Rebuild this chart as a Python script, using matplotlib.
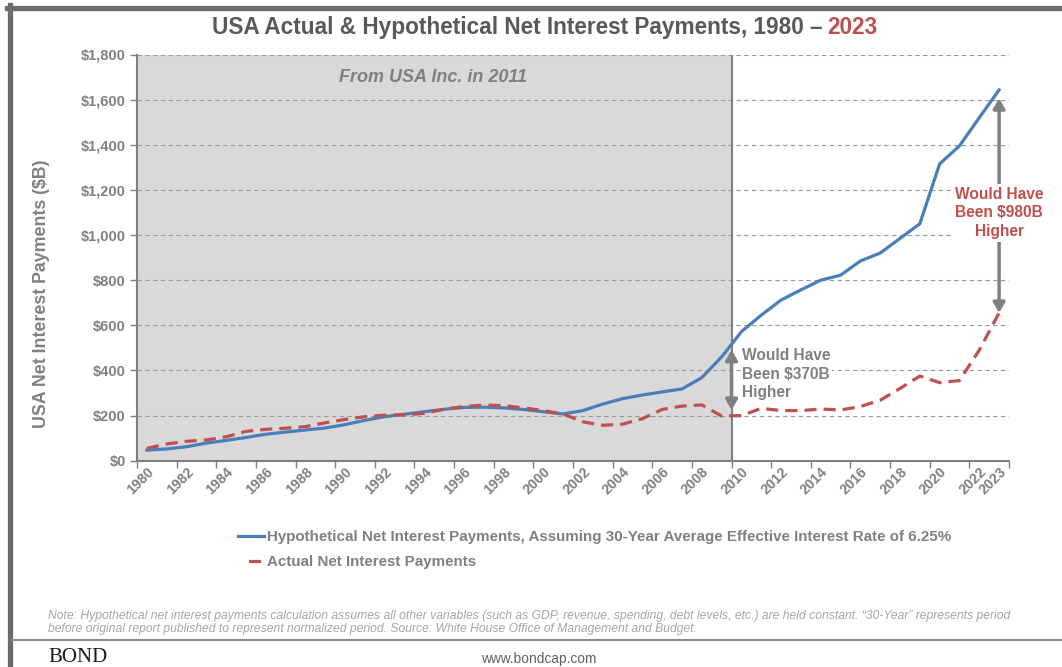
import numpy as np
import matplotlib.pyplot as plt
from matplotlib.lines import Line2D
from matplotlib.ticker import FuncFormatter

# data ($B per year)
years = list(range(1980, 2024))
hypothetical = [47, 52, 62, 78, 90, 103, 117, 127, 136, 145,
                160, 179, 195, 206, 217, 228, 236, 237, 234, 227,
                217, 207, 222, 251, 275, 291, 305, 318, 368, 460,
                572, 645, 712, 757, 800, 822, 885, 920, 985, 1050,
                1315, 1395, 1520, 1643]
actual = [55, 74, 86, 92, 106, 130, 139, 144, 151, 168,
          183, 195, 202, 203, 210, 228, 240, 247, 244, 234,
          222, 207, 172, 157, 162, 186, 227, 242, 247, 198,
          200, 232, 222, 222, 229, 225, 240, 268, 320, 375,
          346, 355, 490, 655]
label_years = list(range(1980, 2023, 2)) + [2023]

gray = '#808080'
blue = '#4a7ebb'
red = '#c0504d'

plt.rcParams['font.family'] = ['Liberation Sans', 'DejaVu Sans']

W, H = 1062, 667
fig = plt.figure(figsize=(W / 100, H / 100), dpi=100)
ax = fig.add_axes([137 / W, 1 - 460.7 / H, (1009 - 137) / W, (460.7 - 54.5) / H])

x = np.array(years) + 0.5   # category centres
ax.axvspan(1980, 2010, color='#d9d9d9', zorder=0, lw=0)
ax.axvline(2010, color=gray, lw=1.5, zorder=1)
ax.plot(x, hypothetical, color=blue, lw=2.3, zorder=3, solid_joinstyle='round')
ax.plot(x, actual, color=red, lw=2.3, ls=(0, (3.8, 2.2)), zorder=3)

ax.set_xlim(1980, 2024)
ax.set_ylim(0, 1800)
ax.set_yticks(range(0, 1801, 200))
ax.yaxis.set_major_formatter(FuncFormatter(lambda v, p: f'${v:,.0f}'))
ax.yaxis.grid(True, ls=(0, (4, 3)), color='#9a9a9a', lw=0.8, zorder=1)
ax.set_axisbelow(True)

ax.set_xticks(list(range(1980, 2023, 2)) + [2024])
ax.set_xticklabels([])
ax.set_xticks([yr + 0.5 for yr in label_years], minor=True)
ax.set_xticklabels([str(yr) for yr in label_years], minor=True, rotation=45,
                   ha='right', va='top', rotation_mode='anchor')
ax.tick_params(axis='x', which='minor', length=0, pad=3, labelsize=10.3,
               labelcolor=gray)
ax.tick_params(axis='x', which='major', length=5, width=1, color=gray)
ax.tick_params(axis='y', length=5, width=1, color=gray, labelsize=10.5,
               labelcolor=gray, pad=3)
for lab in ax.get_xticklabels(minor=True) + ax.get_yticklabels():
    lab.set_fontweight('bold')

for s in ['top', 'right']:
    ax.spines[s].set_visible(False)
for s in ['left', 'bottom']:
    ax.spines[s].set_color(gray)
    ax.spines[s].set_linewidth(1.5)

ax.set_ylabel('USA Net Interest Payments ($B)', fontsize=12.8, fontweight='bold',
              color=gray)
ax.yaxis.set_label_coords(-(137 - 50) / 872, (460.7 - 294) / 406.2)

ax.text(1994.93, 1700, 'From USA Inc. in 2011', fontsize=13, fontweight='bold',
        style='italic', color=gray, ha='center', va='center')

# arrows and call-outs
ax.annotate('', xy=(2010, 225), xytext=(2010, 491),
            arrowprops=dict(arrowstyle='<|-|>,head_length=0.6,head_width=0.35',
                            color=gray, lw=2.5, shrinkA=0, shrinkB=0), zorder=4)
ax.text(2010.55, 384, 'Would Have\nBeen $370B\nHigher', fontsize=11.2,
        fontweight='bold', color=gray, ha='left', va='center', linespacing=1.32,
        bbox=dict(facecolor='white', edgecolor='none', pad=0.5), zorder=5)
ax.annotate('', xy=(2023.5, 655), xytext=(2023.5, 1606),
            arrowprops=dict(arrowstyle='<|-|>,head_length=0.6,head_width=0.35',
                            color=gray, lw=2.5, shrinkA=0, shrinkB=0), zorder=4)
ax.text(2023.5, 1098, 'Would Have\nBeen $980B\nHigher', fontsize=11.2,
        fontweight='bold', color=red, ha='center', va='center', linespacing=1.32,
        bbox=dict(facecolor='white', edgecolor='none', pad=2), zorder=5)

# legend
handles = [Line2D([], [], color=blue, lw=2.3),
           Line2D([], [], color=red, lw=2.3, ls=(5.5, (3.8, 5)))]
labels = ['Hypothetical Net Interest Payments, Assuming 30-Year Average Effective Interest Rate of 6.25%',
          'Actual Net Interest Payments']
fig.legend(handles, labels, loc='upper left', bbox_to_anchor=(238 / W, 1 - 530 / H),
           frameon=False, handlelength=1.75, handletextpad=0.15, labelspacing=0.72,
           borderpad=0, borderaxespad=0,
           prop={'weight': 'bold', 'size': 10.9}, labelcolor=gray)

# title in two colours, on one baseline
fig.canvas.draw()
r = fig.canvas.get_renderer()
t1 = fig.text(0, 1 - 34 / H, 'USA Actual & Hypothetical Net Interest Payments, 1980 \u2013',
              fontsize=16.3, fontweight='bold', color='#595959', va='baseline')
t2 = fig.text(0, 1 - 34 / H, '2023', fontsize=16.3, fontweight='bold', color=red,
              va='baseline')
w1 = t1.get_window_extent(r).width
w2 = t2.get_window_extent(r).width
gap = 5
left = 545 - (w1 + gap + w2) / 2
t1.set_x(left / W)
t2.set_x((left + w1 + gap) / W)

# note and footer
note1 = ('Note: Hypothetical net interest payments calculation assumes all other variables '
         '(such as GDP, revenue, spending, debt levels, etc.) are held constant. \u201c30-Year\u201d '
         'represents period')
note2 = ('before original report published to represent normalized period. Source: White House '
         'Office of Management and Budget.')
fig.text(48 / W, 1 - 616 / H, note1, fontsize=8.7, style='italic', color='#a6a6a6', va='center')
fig.text(48 / W, 1 - 629 / H, note2, fontsize=8.7, style='italic', color='#a6a6a6', va='center')
fig.text(48 / W, 1 - 657 / H, 'BOND', fontsize=15, fontfamily='Liberation Serif',
         color='#1a1a1a', va='center')
fig.text(539 / W, 1 - 659 / H, 'www.bondcap.com', fontsize=9.9, color='#606060',
         ha='center', va='center')

# frame lines
fig.add_artist(Line2D([9.5 / W, 9.5 / W], [1 - 5 / H, 0], transform=fig.transFigure,
                      color='#6b6b6b', lw=3.8))
fig.add_artist(Line2D([7 / W, 1], [1 - 7.5 / H, 1 - 7.5 / H], transform=fig.transFigure,
                      color='#6b6b6b', lw=3.8))
fig.add_artist(Line2D([12 / W, 1], [1 - 640 / H, 1 - 640 / H], transform=fig.transFigure,
                      color='#8a8a8a', lw=1.5))

fig.savefig('out.png', dpi=100)
